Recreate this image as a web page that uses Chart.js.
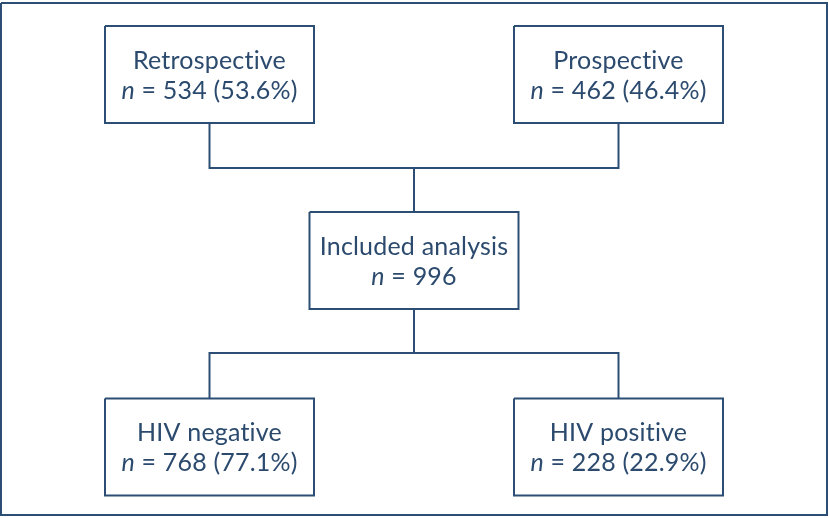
<!DOCTYPE html>
<html>
<head>
<meta charset="utf-8">
<script src="https://cdn.jsdelivr.net/npm/chart.js@4.4.1/dist/chart.umd.min.js"></script>
<style>
  html, body { margin: 0; padding: 0; background: #ffffff; }
  #wrap { width: 829px; height: 518px; }
</style>
</head>
<body>
<div id="wrap"><canvas id="flujo" width="829" height="518"></canvas></div>
<script>
// datos del diagrama
const boxTitles = ["Retrospective", "Prospective", "Included analysis", "HIV negative", "HIV positive"];
const boxCounts = [534, 462, 996, 768, 228];
const boxPercents = ["53.6", "46.4", null, "77.1", "22.9"];

// disposicion (unidades = pixeles de la figura original)
const colX = [209.5, 618.5, 414, 209.5, 618.5];
const rowY = [74.5, 74.5, 260.5, 447, 447];
const boxW = 209;
const boxH = 97;
const joinTopY = 168;
const joinBottomY = 353;

const lineColor = "#2c4e75";
const textColor = "#2b4a6d";

function rectPoints(cx, cy, w, h) {
  var x0 = cx - w / 2, x1 = cx + w / 2, y0 = cy - h / 2, y1 = cy + h / 2;
  return [{x: x0, y: y0}, {x: x1, y: y0}, {x: x1, y: y1}, {x: x0, y: y1}, {x: x0, y: y0}];
}

function lineSet(points) {
  return {
    data: points,
    showLine: true,
    borderColor: lineColor,
    borderWidth: 2,
    pointRadius: 0,
    borderJoinStyle: "miter",
    borderCapStyle: "butt",
    tension: 0,
    clip: false
  };
}

var datasets = [];

// marco exterior
datasets.push(lineSet(rectPoints(414, 259, 826, 512)));

// cajas
for (let i = 0; i < boxTitles.length; i++) {
  datasets.push(lineSet(rectPoints(colX[i], rowY[i], boxW, boxH)));
}

// conectores superiores
datasets.push(lineSet([
  {x: colX[0], y: rowY[0] + boxH / 2},
  {x: colX[0], y: joinTopY},
  {x: colX[1], y: joinTopY},
  {x: colX[1], y: rowY[1] + boxH / 2}
]));
datasets.push(lineSet([
  {x: colX[2], y: joinTopY},
  {x: colX[2], y: rowY[2] - boxH / 2}
]));

// conectores inferiores
datasets.push(lineSet([
  {x: colX[2], y: rowY[2] + boxH / 2},
  {x: colX[2], y: joinBottomY}
]));
datasets.push(lineSet([
  {x: colX[3], y: rowY[3] - boxH / 2},
  {x: colX[3], y: joinBottomY},
  {x: colX[4], y: joinBottomY},
  {x: colX[4], y: rowY[4] - boxH / 2}
]));

const fontFamily = "Lato, 'Open Sans', sans-serif";
const fontSize = 25;

// Texto de cada caja
const textoCajas = {
  id: "textoCajas",
  afterDatasetsDraw(chart) {
    const ctx = chart.ctx;
    const xs = chart.scales.x;
    const ys = chart.scales.y;
    ctx.save();
    ctx.fillStyle = textColor;
    ctx.textBaseline = "alphabetic";
    // sin ligaduras (ti)
    ctx.letterSpacing = "0.2px";
    for (let i = 0; i < boxTitles.length; i++) {
      const cx = xs.getPixelForValue(colX[i]);
      const cy = ys.getPixelForValue(rowY[i]);

      ctx.font = `${fontSize}px ${fontFamily}`;
      ctx.textAlign = "center";
      ctx.fillText(boxTitles[i], cx, cy - 6);

      // segunda linea: n en cursiva
      var resto = " = " + boxCounts[i];
      if (boxPercents[i] != null) {
        resto += " (" + boxPercents[i] + "%)";
      }
      ctx.font = `italic ${fontSize}px ${fontFamily}`;
      const anchoN = ctx.measureText("n").width;
      ctx.font = `${fontSize}px ${fontFamily}`;
      const anchoResto = ctx.measureText(resto).width;
      const inicio = cx - (anchoN + anchoResto) / 2;
      ctx.textAlign = "left";
      ctx.font = `italic ${fontSize}px ${fontFamily}`;
      ctx.fillText("n", inicio, cy + 24);
      ctx.font = `${fontSize}px ${fontFamily}`;
      ctx.fillText(resto, inicio + anchoN, cy + 24);
    }
    ctx.restore();
  }
};

const config = {
  type: "scatter",
  data: { datasets: datasets },
  options: {
    responsive: false,
    animation: false,
    events: [],
    layout: { padding: 0 },
    plugins: {
      legend: { display: false },
      tooltip: { enabled: false }
    },
    scales: {
      x: { type: "linear", min: 0, max: 829, display: false },
      y: { type: "linear", min: 0, max: 518, reverse: true, display: false }
    }
  },
  plugins: [textoCajas]
};

const ctx = document.getElementById("flujo").getContext("2d");
new Chart(ctx, config);
</script>
</body>
</html>
